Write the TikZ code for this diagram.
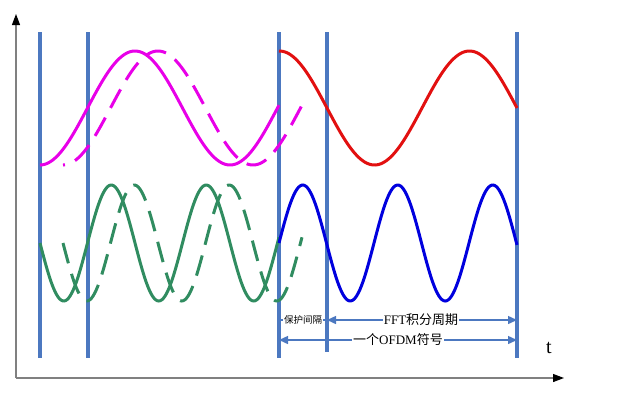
\documentclass[tikz,border=0pt]{standalone}
\usepackage{fontspec}
\setmainfont{Liberation Serif}
\newfontfamily\cjk{Noto Sans CJK SC}
\usetikzlibrary{arrows.meta}
\definecolor{symblue}{RGB}{76,120,192}
\definecolor{wavered}{RGB}{226,16,16}
\definecolor{wavemag}{RGB}{232,0,232}
\definecolor{wavegreen}{RGB}{48,140,96}
\definecolor{waveblue}{RGB}{0,0,222}

\begin{document}
\begin{tikzpicture}[x=1pt,y=-1pt]
    \tikzstyle{every node}+=[inner sep=0pt]
    \tikzstyle{axis}=[draw=gray, line width=1.1pt]
    \tikzstyle{symline}=[draw=symblue, line width=3.5pt]
    \tikzstyle{wave}=[line width=3pt]
    \tikzstyle{late}=[dash pattern=on 21pt off 11pt]
    \tikzstyle{span}=[draw=symblue, line width=1.4pt, {Triangle[length=9pt,width=8pt]}-{Triangle[length=9pt,width=8pt]}]
    \tikzstyle{spanlbl}=[fill=white, inner sep=1pt]
    \useasboundingbox (0,0) rectangle (640,392);
    \coordinate (o) at (16,378);
    \coordinate (ytip) at (16,14);
    \coordinate (xtip) at (564,378);
    \draw [axis, -{Triangle[length=11pt,width=8pt,color=black]}] (o) -- (ytip);
    \draw [axis, -{Triangle[length=11pt,width=8pt,color=black]}] (o) -- (xtip);
    \node (tlbl) at (549,348) {\fontsize{20}{20}\selectfont t};
    \coordinate (g1top) at (40,32);
    \coordinate (g1bot) at (40,358);
    \coordinate (f1top) at (88,32);
    \coordinate (f1bot) at (88,358);
    \coordinate (g2top) at (279,32);
    \coordinate (g2bot) at (279,358);
    \coordinate (f2top) at (327,32);
    \coordinate (f2bot) at (327,352);
    \coordinate (endtop) at (517,32);
    \coordinate (endbot) at (517,358);
    \draw [symline] (g1top) -- (g1bot);
    \draw [symline] (f1top) -- (f1bot);
    \draw [symline] (g2top) -- (g2bot);
    \draw [symline] (f2top) -- (f2bot);
    \draw [symline] (endtop) -- (endbot);
    \draw [wave, wavemag] plot[domain=40:279, samples=120, smooth] (\x,{108+57*cos((\x-40)/190*360)});
    \draw [wave, wavemag, late, dash phase=19pt] plot[domain=63:302, samples=120, smooth] (\x,{108+57*cos((\x-63)/190*360)});
    \draw [wave, wavered] plot[domain=279:517, samples=120, smooth] (\x,{108+57*sin((\x-327)/190*360)});
    \draw [wave, wavegreen] plot[domain=40:279, samples=160, smooth] (\x,{243+58*sin((\x-40)/95*360)});
    \draw [wave, wavegreen, late] plot[domain=63:302, samples=160, smooth] (\x,{243+58*sin((\x-63)/95*360)});
    \draw [wave, waveblue] plot[domain=279:517, samples=160, smooth] (\x,{243-58*sin((\x-279)/95*360)});
    \coordinate (gl) at (279,320);
    \coordinate (gr) at (327,320);
    \coordinate (fr) at (517,320);
    \coordinate (sl) at (279,340);
    \coordinate (sr) at (517,340);
    \draw [draw=symblue, line width=1.2pt] (gl) -- (gr);
    \node [spanlbl] (guardlbl) at (303,320) {\fontsize{9.5}{10}\selectfont\cjk 保护间隔};
    \draw [span] (gr) -- (fr);
    \node [spanlbl] (fftlbl) at (421,320) {\fontsize{13}{14}\selectfont FFT{\cjk 积分周期}};
    \draw [span] (sl) -- (sr);
    \node [spanlbl] (symlbl) at (398,340) {\fontsize{13}{14}\selectfont{\cjk 一个}OFDM{\cjk 符号}};
\end{tikzpicture}
\end{document}
